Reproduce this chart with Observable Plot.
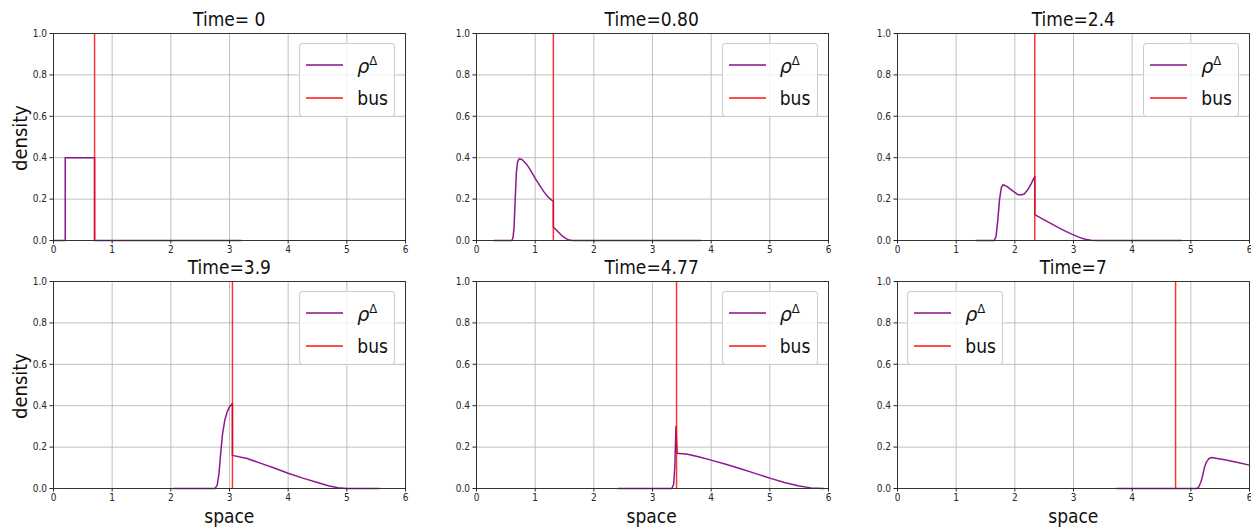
<!DOCTYPE html>
<html><head><meta charset="utf-8">
<script src="https://cdn.jsdelivr.net/npm/d3@7"></script>
<script src="https://cdn.jsdelivr.net/npm/@observablehq/plot@0.6"></script>
<style>
body{margin:0;background:#fff;font-family:"DejaVu Sans Condensed","DejaVu Sans",sans-serif;}
#root{position:relative;width:1251px;height:529px;overflow:hidden;background:#fff;}
.title{position:absolute;font-size:19px;line-height:19px;white-space:nowrap;transform:translateX(-50%);color:#111;}
.ylab{position:absolute;font-size:20px;line-height:20px;white-space:nowrap;transform:translate(-50%,-50%) rotate(-90deg);color:#111;}
.xlab{position:absolute;font-size:19px;line-height:19px;white-space:nowrap;transform:translateX(-50%);color:#111;}
.legend{position:absolute;width:96px;height:74px;border:1px solid rgba(200,200,200,0.9);border-radius:4px;background:rgba(255,255,255,0.8);box-sizing:border-box;}
.sw{position:absolute;left:6px;width:37px;height:2px;}
.lt{position:absolute;left:57px;font-size:19px;line-height:19px;white-space:nowrap;color:#111;}
</style>
</head><body><div id="root"></div>
<script>
const titles = ["Time= 0","Time=0.80","Time=2.4","Time=3.9","Time=4.77","Time=7"];
const busX = [0.70, 1.31, 2.34, 3.05, 3.41, 4.74];
const xTicks = [0,1,2,3,4,5,6];
const yTicks = [0,0.2,0.4,0.6,0.8,1.0];
const legendLabels = ["ρ", "Δ", "bus"];
const axisLabels = ["density", "space"];

const rhoX0 = [0, 0.2, 0.2, 0.7, 0.7, 3.2];
const rhoY0 = [0, 0, 0.4, 0.4, 0, 0];

const rhoX1 = [0.30,0.60,0.62,0.64,0.66,0.68,0.70,0.73,0.78,0.85,0.92,1.00,1.08,1.15,1.22,1.28,1.31,1.31,1.38,1.45,1.52,1.58,1.63,3.82];
const rhoY1 = [0,0,0.01,0.06,0.2,0.33,0.38,0.395,0.39,0.37,0.34,0.30,0.265,0.235,0.21,0.195,0.19,0.065,0.045,0.025,0.01,0.002,0,0];

const rhoX2 = [1.34,1.65,1.68,1.71,1.74,1.77,1.80,1.87,1.94,2.00,2.05,2.10,2.16,2.22,2.28,2.34,2.34,2.50,2.65,2.80,2.95,3.10,3.20,3.30,3.40,4.84];
const rhoY2 = [0,0,0.02,0.1,0.2,0.255,0.27,0.26,0.245,0.232,0.222,0.22,0.225,0.245,0.275,0.31,0.125,0.1,0.077,0.054,0.033,0.015,0.006,0.001,0,0];

const rhoX3 = [2.04,2.75,2.79,2.82,2.85,2.88,2.92,2.96,3.00,3.05,3.05,3.30,3.50,3.75,4.00,4.25,4.50,4.70,4.85,5.00,5.55];
const rhoY3 = [0,0,0.015,0.07,0.17,0.26,0.33,0.37,0.395,0.41,0.16,0.145,0.125,0.1,0.074,0.05,0.029,0.012,0.004,0,0];

const rhoX4 = [2.41,3.33,3.36,3.38,3.40,3.42,3.60,3.80,4.00,4.25,4.50,4.75,5.00,5.25,5.50,5.70,5.92];
const rhoY4 = [0,0,0.02,0.1,0.30,0.17,0.165,0.152,0.137,0.117,0.095,0.073,0.05,0.029,0.012,0.003,0];

const rhoX5 = [3.74,5.10,5.13,5.17,5.20,5.23,5.27,5.31,5.36,5.45,5.60,5.80,6.00];
const rhoY5 = [0,0,0.005,0.03,0.06,0.1,0.13,0.145,0.15,0.145,0.138,0.126,0.113];

const rhoXs = [rhoX0,rhoX1,rhoX2,rhoX3,rhoX4,rhoX5];
const rhoYs = [rhoY0,rhoY1,rhoY2,rhoY3,rhoY4,rhoY5];

const root = document.getElementById("root");
const frameLefts = [53.3, 475.7, 897.3];
const frameTops = [32.7, 280.7];
const FW = 352, FH = 207, ML = 45, MR = 10, MT = 8, MB = 22;

function el(cls, text, style) {
  const d = document.createElement("div");
  d.className = cls;
  if (text != null) d.textContent = text;
  Object.assign(d.style, style);
  root.appendChild(d);
  return d;
}

for (let i = 0; i < 6; i++) {
  const c = i % 3, r = Math.floor(i / 3);
  const fl = frameLefts[c], ft = frameTops[r];
  const data = rhoXs[i].map((x, k) => ({x, y: rhoYs[i][k]}));
  const svg = Plot.plot({
    width: ML + FW + MR, height: MT + FH + MB,
    marginLeft: ML, marginRight: MR, marginTop: MT, marginBottom: MB,
    style: {fontFamily: "'DejaVu Sans Condensed', 'DejaVu Sans', sans-serif", fontSize: "10px", color: "#262626", background: "transparent", overflow: "visible"},
    x: {domain: [0, 6]},
    y: {domain: [0, 1]},
    marks: [
      Plot.gridX(xTicks, {stroke: "#b0b0b0", strokeOpacity: 1, strokeWidth: 0.8}),
      Plot.gridY(yTicks, {stroke: "#b0b0b0", strokeOpacity: 1, strokeWidth: 0.8}),
      Plot.line(data, {x: "x", y: "y", stroke: "purple", strokeWidth: 1.5, strokeOpacity: 0.9}),
      Plot.ruleX([busX[i]], {stroke: "red", strokeWidth: 1.5, strokeOpacity: 0.8}),
      Plot.frame({stroke: "#333", strokeWidth: 1}),
      Plot.axisX(xTicks, {tickSize: 3.5, tickPadding: 2, label: null, tickFormat: d => String(d)}),
      Plot.axisY(yTicks, {tickSize: 3.5, tickPadding: 3, label: null, tickFormat: d3.format(".1f")})
    ]
  });
  Object.assign(svg.style, {position: "absolute", left: (fl - ML) + "px", top: (ft - MT) + "px"});
  root.appendChild(svg);

  // title
  el("title", titles[i], {left: (fl + FW / 2) + "px", top: (ft - 6.8 - 16) + "px"});
  if (c === 0) el("ylab", axisLabels[0], {left: "20px", top: (ft + FH / 2 + 2) + "px"});
  if (r === 1) el("xlab", axisLabels[1], {left: (fl + FW / 2) + "px", top: "507px"});

  // legend
  const lgLeft = i === 5 ? fl + 10 : fl + FW - 10 - 96;
  const lg = el("legend", null, {left: lgLeft + "px", top: (ft + 10) + "px"});
  const s1 = document.createElement("div"); s1.className = "sw";
  Object.assign(s1.style, {top: "20.5px", background: "rgba(128,0,128,0.7)"}); lg.appendChild(s1);
  const s2 = document.createElement("div"); s2.className = "sw";
  Object.assign(s2.style, {top: "53px", background: "rgba(255,0,0,0.7)"}); lg.appendChild(s2);
  const t1 = document.createElement("div"); t1.className = "lt";
  t1.innerHTML = '<span style="font-style:italic;font-family:\'DejaVu Sans\'">' + legendLabels[0] + '</span><span style="font-size:13px;position:relative;top:-8px;">' + legendLabels[1] + '</span>';
  t1.style.top = "13px"; lg.appendChild(t1);
  const t2 = document.createElement("div"); t2.className = "lt";
  t2.textContent = legendLabels[2]; t2.style.top = "45px"; lg.appendChild(t2);
}
</script>
</body></html>
